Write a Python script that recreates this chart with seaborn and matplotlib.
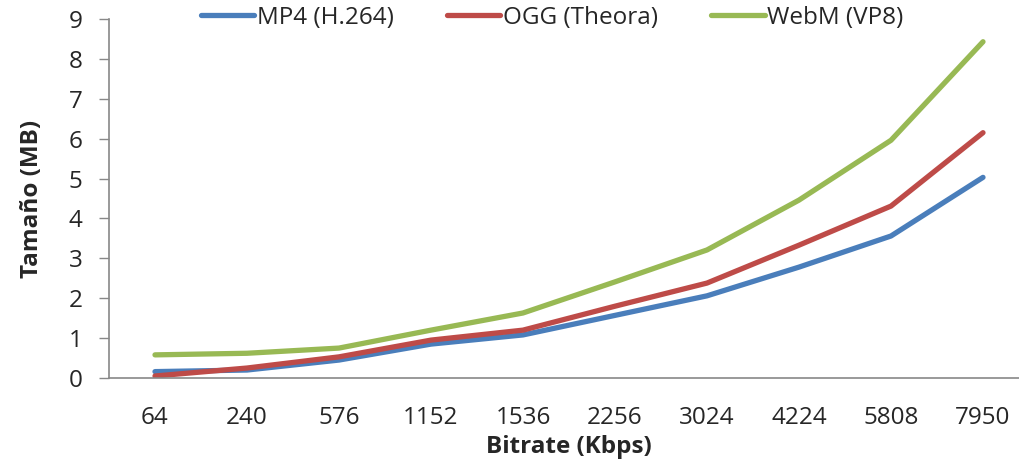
import matplotlib
matplotlib.use("Agg")
import matplotlib.pyplot as plt
import seaborn as sns
import pandas as pd
from matplotlib.lines import Line2D

bitrates = ["64", "240", "576", "1152", "1536", "2256", "3024", "4224", "5808", "7950"]
mp4 = [0.16, 0.20, 0.45, 0.85, 1.08, 1.57, 2.06, 2.78, 3.56, 5.03]
ogg = [0.05, 0.25, 0.53, 0.95, 1.20, 1.80, 2.38, 3.33, 4.31, 6.15]
webm = [0.58, 0.62, 0.75, 1.20, 1.63, 2.41, 3.21, 4.46, 5.96, 8.43]
series_names = ["MP4 (H.264)", "OGG (Theora)", "WebM (VP8)"]
colors = ["#4A7EBB", "#BE4B48", "#98B954"]

sns.set_theme(style="white")
plt.rcParams["font.family"] = ["Open Sans", "DejaVu Sans"]

rows = []
for name, vals in zip(series_names, [mp4, ogg, webm]):
    for b, v in zip(bitrates, vals):
        rows.append({"Bitrate": b, "Size": v, "Serie": name})
df = pd.DataFrame(rows)

FS = 17.5
fig = plt.figure(figsize=(10.19, 4.63), dpi=100)
ax = fig.add_axes([109 / 1019, 85 / 463, (1029 - 109) / 1019, (378 - 19) / 463])
sns.lineplot(data=df, x="Bitrate", y="Size", hue="Serie", palette=colors,
             linewidth=3.8, sort=False, ax=ax, legend=False,
             solid_capstyle="round")

ax.set_xlim(-0.5, 9.5)
ax.set_ylim(0, 9)
ax.set_yticks(range(0, 10))
ax.tick_params(axis="y", length=7, width=1, color="#888888", labelsize=FS, pad=12, left=True)
ax.tick_params(axis="x", length=0, labelsize=FS, pad=20)
for s in ["top", "right"]:
    ax.spines[s].set_visible(False)
for s in ["left", "bottom"]:
    ax.spines[s].set_color("#888888")
    ax.spines[s].set_linewidth(1.2)
ax.set_xlabel("Bitrate (Kbps)", fontsize=FS, fontweight="bold", labelpad=4)
ax.set_ylabel("Tamaño (MB)", fontsize=FS, fontweight="bold", labelpad=18)

handles = [Line2D([], [], color=c, linewidth=3.8, solid_capstyle="round") for c in colors]
fig.legend(handles, series_names, loc="center", bbox_to_anchor=(552 / 1019, 1 - 18 / 463),
           ncol=3, frameon=False, fontsize=FS, handlelength=2.2, handletextpad=0.1,
           columnspacing=2.2, borderaxespad=0)

fig.savefig("out.png", dpi=100)
